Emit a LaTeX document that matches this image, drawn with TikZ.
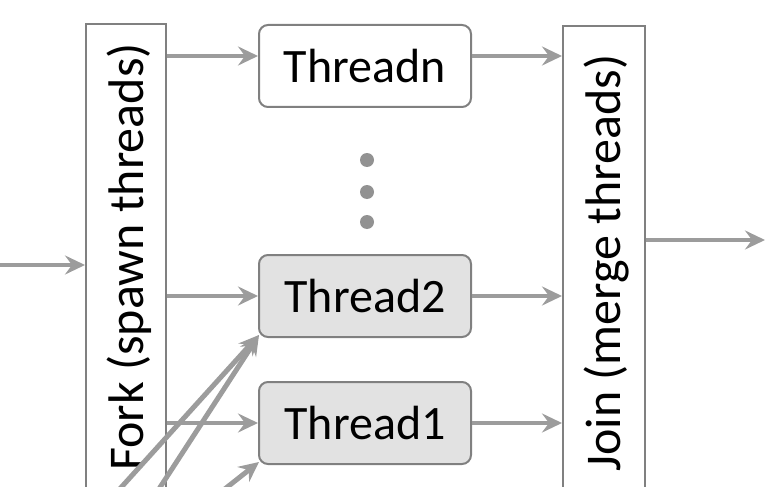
\documentclass[tikz,border=0pt]{standalone}
\usepackage{fontspec}
\setmainfont{Carlito}
\usetikzlibrary{arrows.meta}
\definecolor{linegray}{HTML}{9C9C9C}
\definecolor{edgegray}{HTML}{808080}
\definecolor{shadegray}{HTML}{E2E2E2}
\definecolor{dotgray}{HTML}{929292}
\begin{document}
\begin{tikzpicture}[x=1pt,y=-1pt,
  flow/.style={draw=linegray, line width=3.2pt,
    -{Stealth[length=20pt,width=19pt,inset=7pt]}},
  heavyflow/.style={flow, line width=5pt},
  bar/.style={draw=edgegray, line width=2pt, fill=white,
    minimum width=#1, minimum height=520pt, inner sep=0pt},
  threadbox/.style={draw=edgegray, line width=2pt, rounded corners=9pt,
    minimum width=212pt, minimum height=82pt, inner sep=0pt,
    font=\fontsize{48}{50}\selectfont},
  barlabel/.style={rotate=90, font=\fontsize{50}{52}\selectfont, inner sep=0pt},
  vdot/.style={circle, fill=dotgray, minimum size=14pt, inner sep=0pt}]
\useasboundingbox (0,0) rectangle (769,487);
\clip (0,0) rectangle (769,487);

% fork and join bars (they run past the bottom edge)
\node[bar=80pt, anchor=north west] (fork) at (85,23) {};
\node[bar=82pt, anchor=north west] (join) at (562,25) {};
\node[barlabel] (forklbl) at (129,257) {Fork (spawn threads)};
\node[barlabel] (joinlbl) at (607,263) {Join (merge threads)};

% thread boxes
\node[threadbox, fill=white] (tn) at (365,66) {Threadn};
\node[threadbox, fill=shadegray] (t2) at (365,296) {Thread2};
\node[threadbox, fill=shadegray] (t1) at (365,423) {Thread1};

% ellipsis between Threadn and Thread2
\node[vdot] (d1) at (367,160) {};
\node[vdot] (d2) at (367,192) {};
\node[vdot] (d3) at (367,222) {};

% program entry and exit
\coordinate (entry) at (0,265);
\coordinate (exit) at (765,240);
\draw[flow] (entry) -- (entry -| fork.west);
\draw[flow] (join.east |- exit) -- (exit);

% Threadn is wired a little above its middle
\coordinate (tnin) at ([yshift=10pt]tn.west);
\coordinate (tnout) at ([yshift=10pt]tn.east);

% fork -> threads
\draw[flow] (fork.east |- tnin) -- (tnin);
\draw[flow] (fork.east |- t2.west) -- (t2.west);
\draw[flow] (fork.east |- t1.west) -- (t1.west);

% threads -> join
\draw[flow] (tnout) -- (tnout -| join.west);
\draw[flow] (t2.east) -- (t2.east -| join.west);
\draw[flow] (t1.east) -- (t1.east -| join.west);

% extra threads arriving from below
\coordinate (s1) at (117,492);
\coordinate (s2) at (157,492);
\coordinate (s3) at (221,492);
\coordinate (t2corner) at ([shift={(1pt,3pt)}]t2.south west);
\coordinate (t1corner) at ([shift={(1pt,3pt)}]t1.south west);
\draw[heavyflow] (s1) -- (t2corner);
\draw[heavyflow] (s2) -- (t2corner);
\draw[heavyflow] (s3) -- (t1corner);
\end{tikzpicture}
\end{document}
